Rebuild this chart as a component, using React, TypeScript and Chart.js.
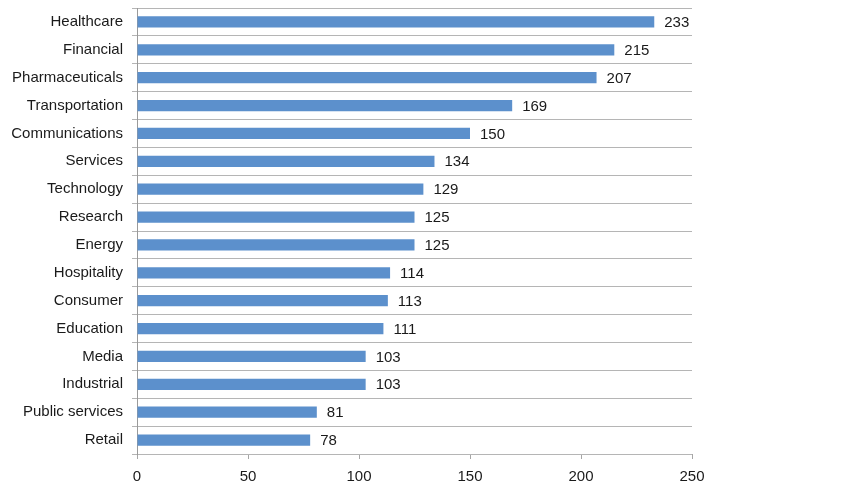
import React, { useEffect, useRef } from "react";
import { Chart, registerables } from "chart.js";

Chart.register(...registerables);

const categories = [
  "Healthcare",
  "Financial",
  "Pharmaceuticals",
  "Transportation",
  "Communications",
  "Services",
  "Technology",
  "Research",
  "Energy",
  "Hospitality",
  "Consumer",
  "Education",
  "Media",
  "Industrial",
  "Public services",
  "Retail",
];

const values = [233, 215, 207, 169, 150, 134, 129, 125, 125, 114, 113, 111, 103, 103, 81, 78];

const xMin = 0;
const xMax = 250;
const xStep = 50;

const FONT = "'Liberation Sans', Arial, sans-serif";

const valueLabels = {
  id: "valueLabels",
  afterDatasetsDraw(chart: any) {
    const ctx = chart.ctx;
    const meta = chart.getDatasetMeta(0);
    ctx.save();
    ctx.font = `15px ${FONT}`;
    ctx.fillStyle = "#1a1a1a";
    ctx.textAlign = "left";
    ctx.textBaseline = "middle";
    meta.data.forEach((el: any, i: number) => {
      const v = chart.data.datasets[0].data[i];
      ctx.fillText(String(v), el.x + 10, el.y + 1);
    });
    ctx.restore();
  },
};

export default function App() {
  const ref = useRef<HTMLCanvasElement | null>(null);

  useEffect(() => {
    if (!ref.current) return;
    const chart = new Chart(ref.current, {
      type: "bar",
      data: {
        labels: categories,
        datasets: [
          {
            data: values,
            backgroundColor: "#5c90cc",
            borderWidth: 0,
            categoryPercentage: 1,
            barPercentage: 0.4,
          },
        ],
      },
      options: {
        indexAxis: "y",
        animation: false,
        responsive: false,
        maintainAspectRatio: false,
        layout: { padding: { top: 8, right: 166, bottom: 0, left: 0 } },
        plugins: {
          legend: { display: false },
          tooltip: { enabled: false },
        },
        scales: {
          x: {
            min: xMin,
            max: xMax,
            ticks: {
              stepSize: xStep,
              color: "#1a1a1a",
              font: { family: FONT, size: 15 },
              padding: 9,
              maxRotation: 0,
            },
            grid: {
              display: true,
              drawOnChartArea: false,
              drawTicks: true,
              tickLength: 5,
              color: "#a6a6a6",
            },
            border: { display: false },
            afterFit: (s: any) => {
              s.height = 39;
              s.paddingLeft = 0;
              s.paddingRight = 0;
            },
          },
          y: {
            ticks: {
              color: "#1a1a1a",
              font: { family: FONT, size: 15 },
              padding: 9,
              autoSkip: false,
            },
            grid: {
              display: true,
              offset: true,
              drawOnChartArea: true,
              drawTicks: true,
              tickLength: 5,
              color: "#b5b5b5",
            },
            border: { display: true, color: "#9a9a9a" },
            afterFit: (s: any) => {
              s.width = 137;
              s.paddingTop = 0;
              s.paddingBottom = 0;
            },
          },
        },
      },
      plugins: [valueLabels],
    });
    return () => chart.destroy();
  }, []);

  return (
    <div style={{ position: "fixed", left: 0, top: 0, width: 858, height: 493, background: "#fff" }}>
      <canvas ref={ref} width={858} height={493} style={{ display: "block" }} />
    </div>
  );
}
